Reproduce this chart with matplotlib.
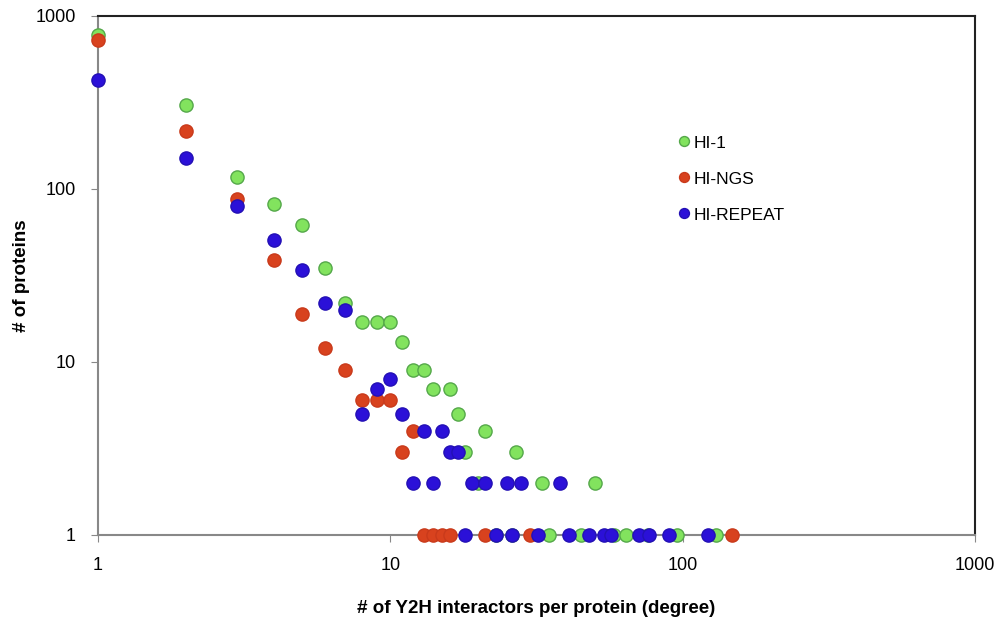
import matplotlib
matplotlib.use('Agg')
import matplotlib.pyplot as plt
from matplotlib.ticker import FixedLocator, FixedFormatter, NullLocator

# данные: степень (число партнёров) и число белков

hi1_deg = [1, 2, 3, 4, 5, 6, 7, 8, 9, 10, 11, 12, 13, 14, 16, 17, 18, 21, 27,
           20, 33, 50, 23, 26, 35, 45, 58, 64, 76, 96, 130]
hi1_cnt = [780, 305, 118, 82, 62, 35, 22, 17, 17, 17, 13, 9, 9, 7, 7, 5, 3, 4, 3,
           2, 2, 2, 1, 1, 1, 1, 1, 1, 1, 1, 1]

ngs_deg = [1, 2, 3, 4, 5, 6, 7, 8, 9, 10, 11, 12, 13, 14, 15, 16, 21, 30, 147]
ngs_cnt = [730, 215, 88, 39, 19, 12, 9, 6, 6, 6, 3, 4, 1, 1, 1, 1, 1, 1, 1]

rep_deg = [1, 2, 3, 4, 5, 6, 7, 8, 9, 10, 11, 13, 15, 16, 17,
           12, 14, 19, 21, 25, 28, 38,
           18, 23, 26, 32, 41, 48, 54, 57, 71, 77, 90, 122]
rep_cnt = [425, 152, 80, 51, 34, 22, 20, 5, 7, 8, 5, 4, 4, 3, 3,
           2, 2, 2, 2, 2, 2, 2,
           1, 1, 1, 1, 1, 1, 1, 1, 1, 1, 1, 1]

ticks = [1, 10, 100, 1000]
tick_labels = ['1', '10', '100', '1000']

plt.rcParams['font.family'] = ['Liberation Sans', 'DejaVu Sans']

fig = plt.figure(figsize=(10, 6.32), dpi=100)
ax = fig.add_axes([0.098, 0.1535, 0.877, 0.8212])

ax.plot(hi1_deg, hi1_cnt, 'o', ms=9.5, mfc='#82e35e', mec='#55a84a', mew=1,
        label='HI-1', clip_on=False, zorder=3)
ax.plot(ngs_deg, ngs_cnt, 'o', ms=9.5, mfc='#d8421e', mec='#c93a1b', mew=1,
        label='HI-NGS', clip_on=False, zorder=4)
ax.plot(rep_deg, rep_cnt, 'o', ms=9.5, mfc='#2b10d8', mec='#2310b5', mew=1,
        label='HI-REPEAT', clip_on=False, zorder=5)

ax.set_xscale('log')
ax.set_yscale('log')
ax.set_xlim(1, 1000)
ax.set_ylim(1, 1000)

for a in (ax.xaxis, ax.yaxis):
    a.set_major_locator(FixedLocator(ticks))
    a.set_major_formatter(FixedFormatter(tick_labels))
    a.set_minor_locator(NullLocator())

ax.tick_params(axis='both', labelsize=13, length=5, color='#888888')
ax.tick_params(axis='x', pad=11)
ax.tick_params(axis='y', pad=11)

ax.spines['left'].set_color('#888888')
ax.spines['bottom'].set_color('#888888')
ax.spines['left'].set_linewidth(1.5)
ax.spines['bottom'].set_linewidth(1.5)
ax.spines['top'].set_color('#222222')
ax.spines['right'].set_color('#222222')
ax.spines['top'].set_linewidth(1.5)
ax.spines['right'].set_linewidth(1.5)

ax.set_xlabel('# of Y2H interactors per protein (degree)', fontsize=13.5,
              fontweight='bold')
ax.set_ylabel('# of proteins', fontsize=13.5, fontweight='bold')
ax.xaxis.set_label_coords(0.5, -0.126)
ax.yaxis.set_label_coords(-0.077, 0.5)

ax.legend(loc='upper left', bbox_to_anchor=(0.644, 0.80), frameon=False,
          fontsize=12.5, markerscale=0.75, handlelength=0.6,
          handletextpad=0.3, labelspacing=1.2)

fig.savefig('out.png', dpi=100)
